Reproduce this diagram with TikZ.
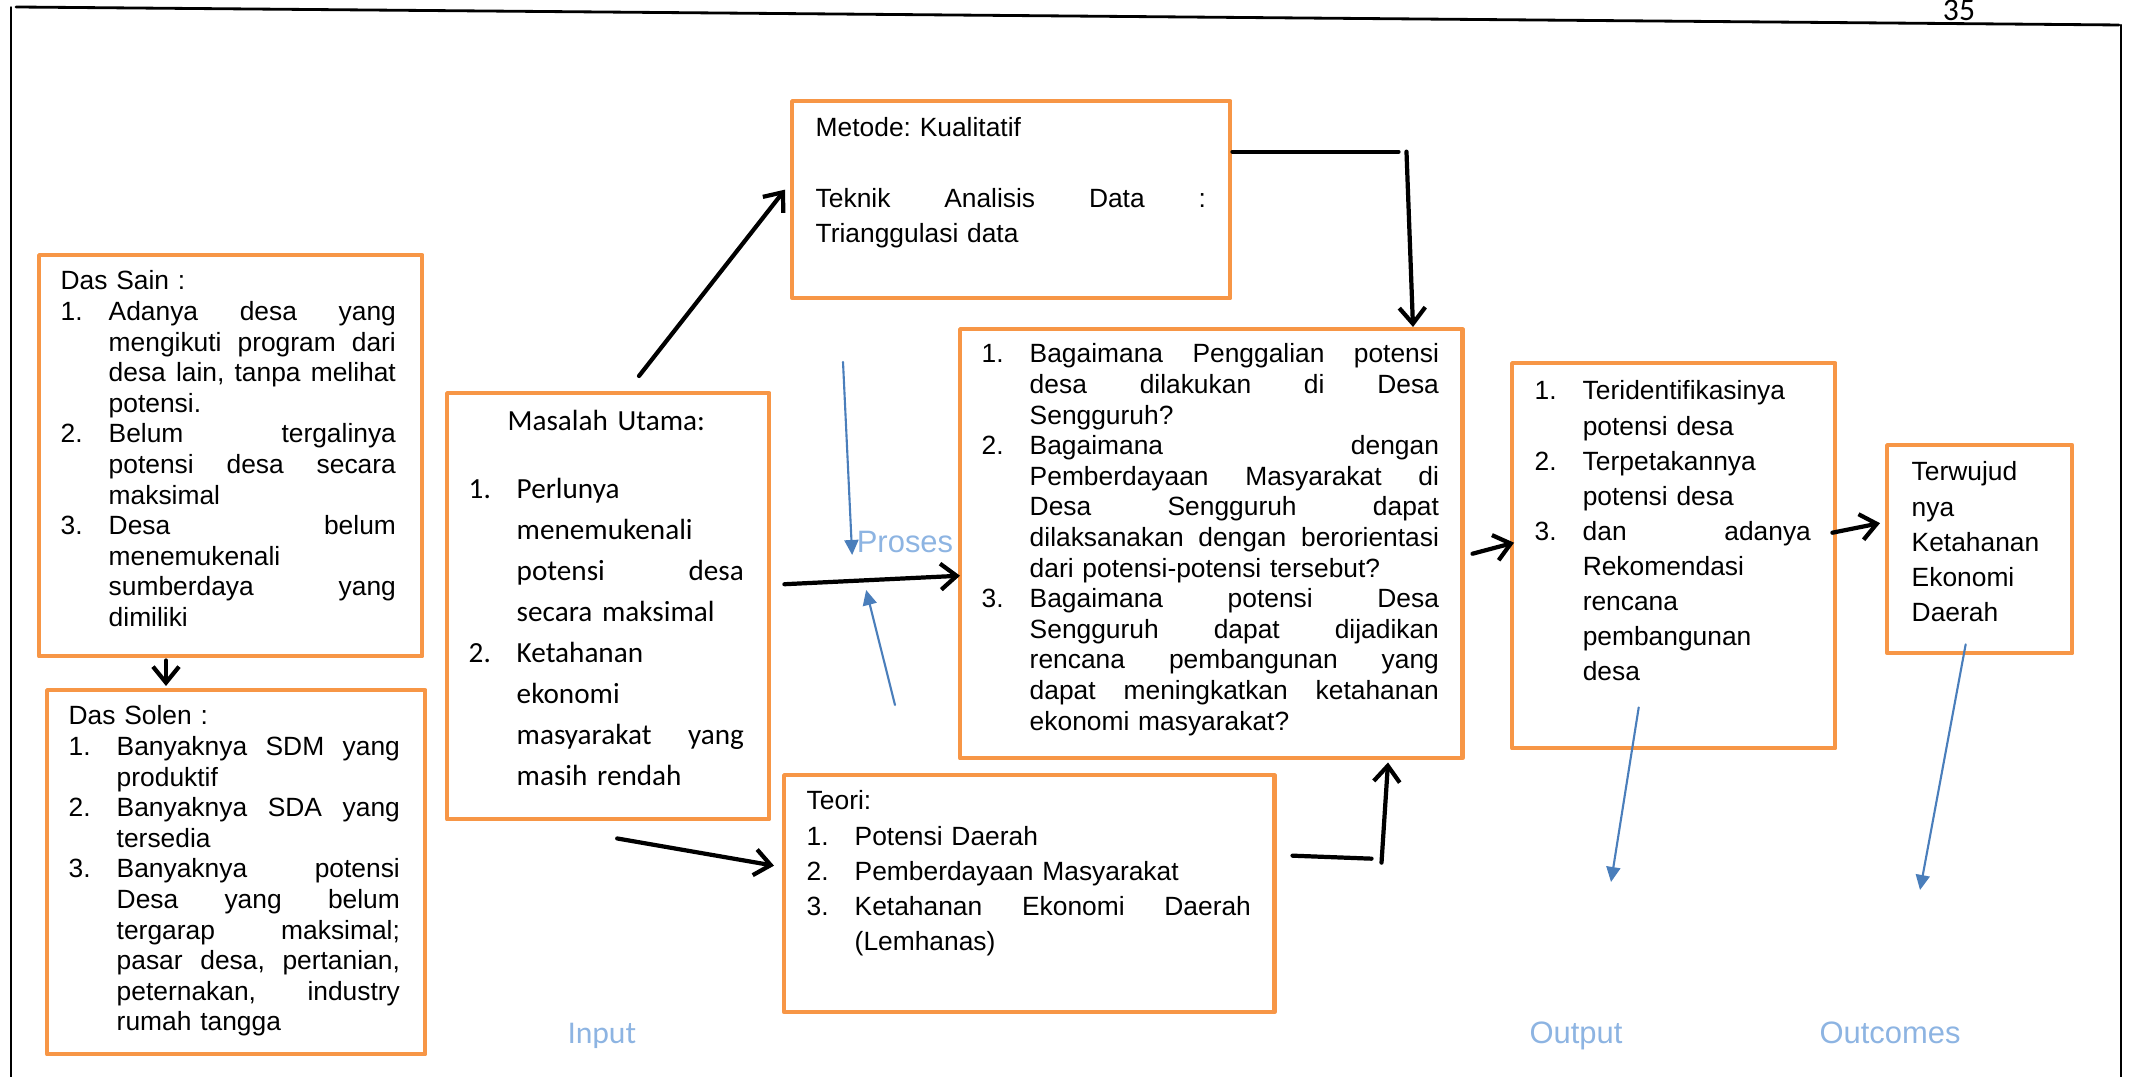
\documentclass[tikz,border=0pt]{standalone}
\usepackage{fontspec}
\setmainfont{Liberation Sans}
\newfontfamily\calibri{Carlito}
\usetikzlibrary{arrows.meta}
\usetikzlibrary{calc}
\frenchspacing

\definecolor{oren}{HTML}{F79646}
\definecolor{biru}{HTML}{4A7EBB}
\definecolor{birumuda}{HTML}{8DB4E2}

% baris rata kiri-kanan dan butir bernomor
\newcommand{\brs}{\hfil\break}
\newcommand{\ratapenuh}[1]{\makebox[\hsize][s]{\spaceskip=0.3em plus 1fil\relax#1}}
\newcommand{\rata}[1]{\makebox[\dimexpr\hsize-0.48cm\relax][s]{\spaceskip=0.3em plus 1fil\relax#1}}
\newcommand{\butir}[2]{\noindent\hangindent=0.48cm\hangafter=1\makebox[0.48cm][l]{#1}#2\par}

\tikzset{
  kotak/.style={draw=oren, line width=1.2pt, anchor=north west, inner sep=0pt},
  isi/.style={anchor=base west, inner sep=0pt, font=\fontsize{7.5}{8.7}\selectfont},
  isilega/.style={isi, font=\fontsize{7.5}{9.96}\selectfont},
  keterangan/.style={text=birumuda, anchor=base, inner sep=0pt, font=\fontsize{8.8}{10}\selectfont},
  panah/.style={line width=1.2pt, -{Straight Barb[length=1.6mm,width=2.6mm]}},
  garis/.style={line width=1.2pt},
  panahbiru/.style={draw=biru, line width=0.6pt, -{Triangle[length=1.5mm,width=1.4mm]}}
}

\begin{document}
\begin{tikzpicture}[x=0.01cm,y=-0.01cm,line cap=round,line join=round]
\useasboundingbox (0,0) rectangle (2137,1077);
% Garis tepi halaman
\draw[line width=0.8pt] (16,7) -- (2119,25);
\draw[line width=0.4pt] (11,7) -- (11,1077);
\draw[line width=0.6pt] (2121,25) -- (2121,1077);
\node[anchor=base, inner sep=0pt, font=\calibri\fontsize{9}{10}\selectfont] (halaman) at (1959,21) {35};

% Kotak-kotak
\node[kotak, minimum width=3.83cm, minimum height=4.01cm] (sain) at (37,253) {};
\node[kotak, minimum width=3.78cm, minimum height=3.64cm] (solen) at (45,688) {};
\node[kotak, minimum width=3.22cm, minimum height=4.26cm] (masalah) at (445,391) {};
\node[kotak, minimum width=4.38cm, minimum height=1.97cm] (metode) at (790,99) {};
\node[kotak, minimum width=5.02cm, minimum height=4.29cm] (rumusan) at (958,327) {};
\node[kotak, minimum width=4.90cm, minimum height=2.37cm] (teori) at (782,773) {};
\node[kotak, minimum width=3.23cm, minimum height=3.85cm] (output) at (1510,361) {};
\node[kotak, minimum width=1.85cm, minimum height=2.08cm] (outcome) at (1885,443) {};

% Isi kotak
\node[isi, text width=3.35cm] (sainisi) at (60,290) {Das Sain :\par
  \butir{1.}{\rata{Adanya desa yang}\brs\rata{mengikuti program dari}\brs\rata{desa lain, tanpa melihat}\brs potensi.}
  \butir{2.}{\rata{Belum tergalinya}\brs\rata{potensi desa secara}\brs maksimal}
  \butir{3.}{\rata{Desa belum}\brs menemukenali\brs\rata{sumberdaya yang}\brs dimiliki}};
\node[isi, text width=3.31cm] (solenisi) at (68,725) {Das Solen :\par
  \butir{1.}{\rata{Banyaknya SDM yang}\brs produktif}
  \butir{2.}{\rata{Banyaknya SDA yang}\brs tersedia}
  \butir{3.}{\rata{Banyaknya potensi}\brs\rata{Desa yang belum}\brs\rata{tergarap maksimal;}\brs\rata{pasar desa, pertanian,}\brs\rata{peternakan, industry}\brs rumah tangga}};
\node[isi, text width=2.75cm, font=\calibri\fontsize{8.3}{11.67}\selectfont] (masalahisi) at (468,431) {{\centering Masalah Utama:\par}
  \vspace{0.26cm}
  \butir{1.}{Perlunya\brs menemukenali\brs\rata{potensi desa}\brs secara maksimal}
  \butir{2.}{Ketahanan\brs ekonomi\brs\rata{masyarakat yang}\brs masih rendah}};
\node[isilega, text width=3.90cm] (metodeisi) at (815,137) {Metode: Kualitatif\\[0.35cm]\ratapenuh{Teknik Analisis Data :}\\Trianggulasi data};
\node[isi, text width=4.57cm] (rumusanisi) at (981,363) {%
  \butir{1.}{\rata{Bagaimana Penggalian potensi}\brs\rata{desa dilakukan di Desa}\brs Sengguruh?}
  \butir{2.}{\rata{Bagaimana dengan}\brs\rata{Pemberdayaan Masyarakat di}\brs\rata{Desa Sengguruh dapat}\brs\rata{dilaksanakan dengan berorientasi}\brs dari potensi-potensi tersebut?}
  \butir{3.}{\rata{Bagaimana potensi Desa}\brs\rata{Sengguruh dapat dijadikan}\brs\rata{rencana pembangunan yang}\brs\rata{dapat meningkatkan ketahanan}\brs ekonomi masyarakat?}};
\node[isilega, text width=4.44cm] (teoriisi) at (806,810) {Teori:\par
  \butir{1.}{Potensi Daerah}
  \butir{2.}{Pemberdayaan Masyarakat}
  \butir{3.}{\rata{Ketahanan Ekonomi Daerah}\brs(Lemhanas)}};
\node[isilega, text width=2.76cm] (outputisi) at (1534,400) {%
  \butir{1.}{Teridentifikasinya\brs potensi desa}
  \butir{2.}{Terpetakannya\brs potensi desa}
  \butir{3.}{\rata{dan adanya}\brs Rekomendasi\brs rencana\brs pembangunan\brs desa}};
\node[isilega, text width=1.5cm] (outcomeisi) at (1911,481) {Terwujud\\nya\\Ketahanan\\Ekonomi\\Daerah};

% Keterangan
\node[keterangan, font=\calibri\fontsize{9}{10}\selectfont] (masukan) at (602,1043) {Input};
\node[keterangan] (proses) at (905,553) {Proses};
\node[keterangan] (keluaran) at (1576,1044) {Output};
\node[keterangan] (hasil) at (1890,1044) {Outcomes};

% Panah hitam
\draw[panah] ($(sain.south west)+(129,2)$) -- ($(solen.north west)+(121,-2)$);
\draw[panah] ($(masalah.north west)+(194,-15)$) -- ($(metode.west)+(-5,-10)$);
\draw[panah] ($(masalah.east)+(13,-22)$) -- ($(rumusan.west)+(2,32)$);
\draw[panah] ($(masalah.south)+(9,17)$) -- ($(teori.west)+(-8,-28)$);
\draw[garis] ($(metode.east)+(0,-48)$) -- ($(metode.east)+(166,-48)$);
\draw[panah] ($(metode.east)+(174,-48)$) -- ($(rumusan.north west)+(455,0)$);
\draw[garis] ($(teori.east)+(16,-38)$) -- ($(teori.east)+(95,-35)$);
\draw[panah] ($(teori.east)+(105,-31)$) -- ($(rumusan.south west)+(430,2)$);
\draw[panah] ($(rumusan.east)+(8,10)$) -- ($(output.west)+(4,-13)$);
\draw[panah] ($(output.east)+(-5,-23)$) -- ($(outcome.west)+(-5,-26)$);

% Panah biru
\coordinate (pangkal1) at (843,362);
\coordinate (pangkal2) at (895,705);
\coordinate (ujung3) at (1611,882);
\coordinate (ujung4) at (1920,890);
\draw[panahbiru] (pangkal1) -- ($(proses.base west)+(-4,2)$);
\draw[panahbiru] (pangkal2) -- ($(proses.base west)+(10,37)$);
\draw[panahbiru] ($(output.south)+(-35,-43)$) -- (ujung3);
\draw[panahbiru] ($(outcome.south)+(-14,-11)$) -- (ujung4);
\end{tikzpicture}
\end{document}
